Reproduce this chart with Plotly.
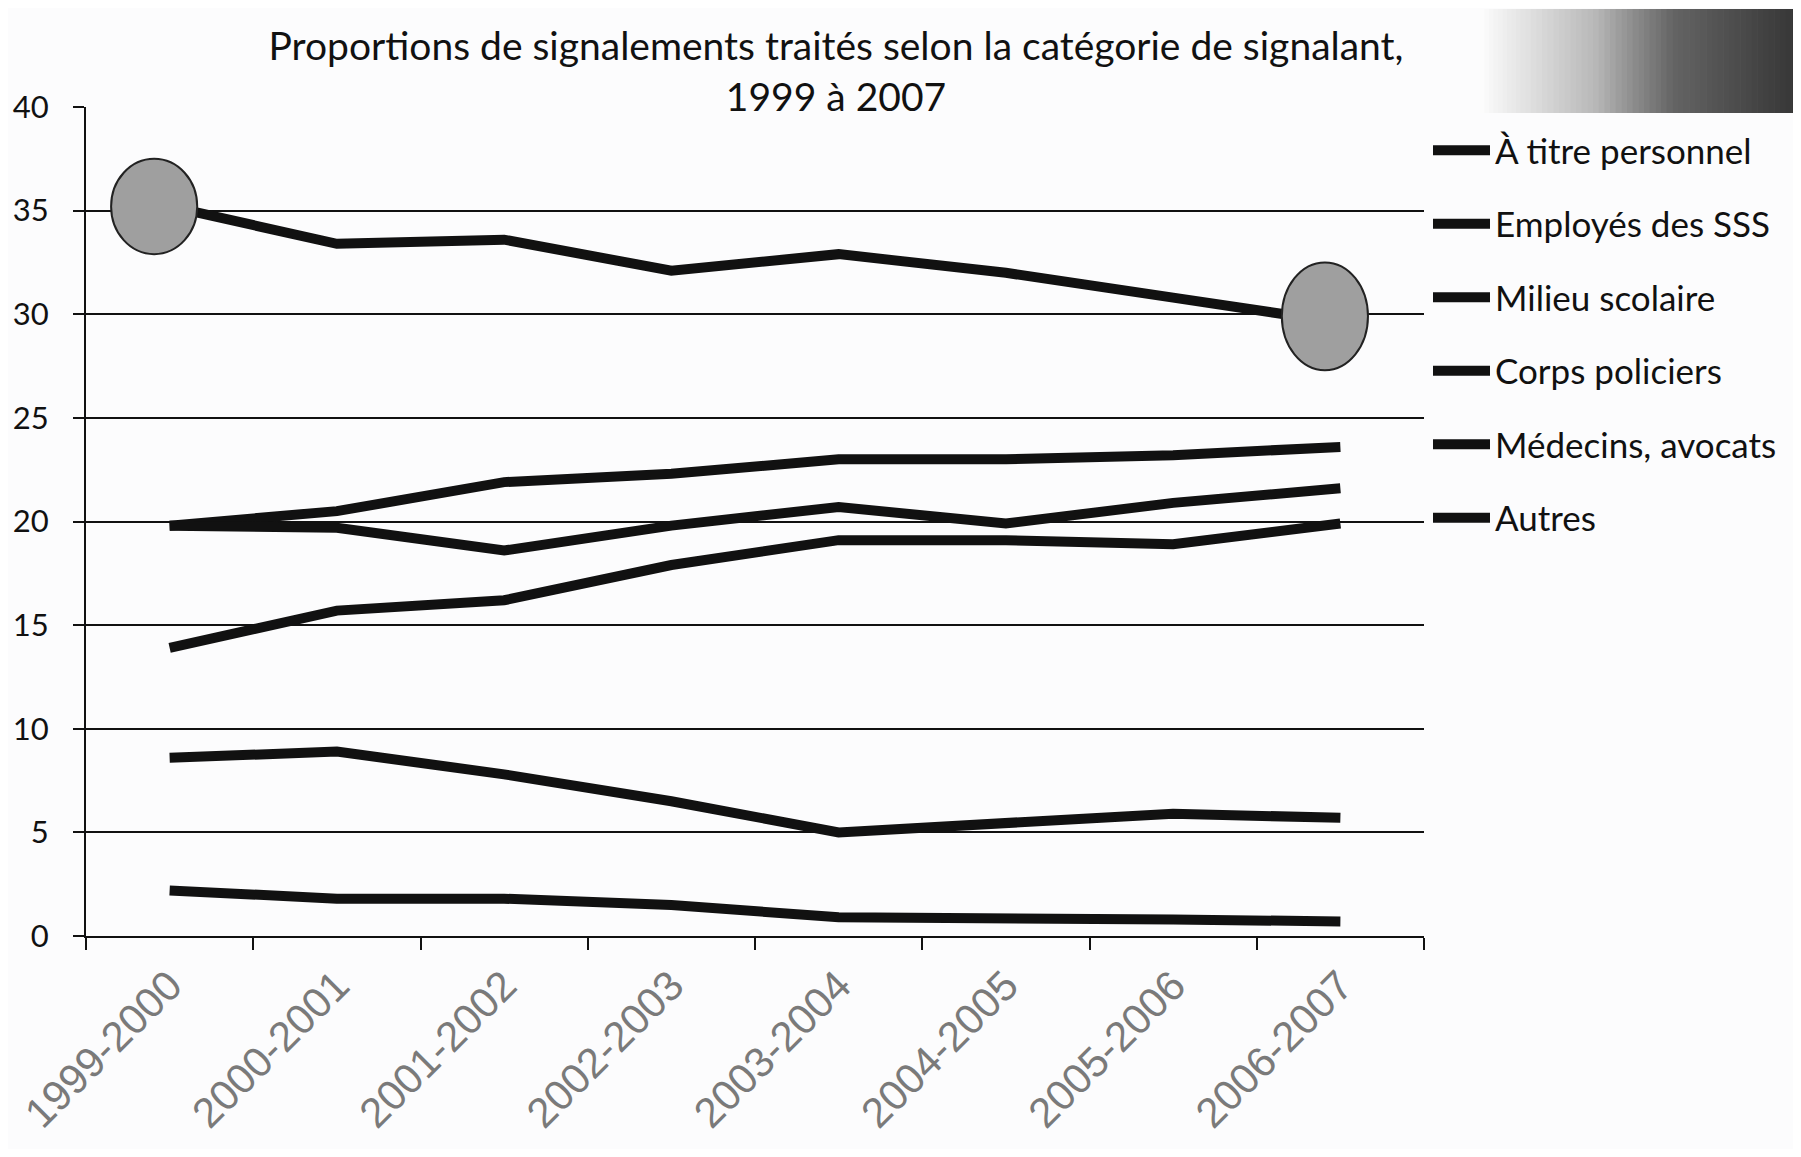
import plotly.graph_objects as go

# ---- data ----
periods = ["1999-2000", "2000-2001", "2001-2002", "2002-2003",
           "2003-2004", "2004-2005", "2005-2006", "2006-2007"]

series_names = ["À titre personnel", "Employés des SSS", "Milieu scolaire",
                "Corps policiers", "Médecins, avocats", "Autres"]

a_titre_personnel = [35.2, 33.4, 33.6, 32.1, 32.9, 32.0, 30.8, 29.6]
employes_sss      = [19.8, 20.5, 21.9, 22.3, 23.0, 23.0, 23.2, 23.6]
milieu_scolaire   = [19.8, 19.7, 18.6, 19.8, 20.7, 19.9, 20.9, 21.6]
corps_policiers   = [13.9, 15.7, 16.2, 17.9, 19.1, 19.1, 18.9, 19.9]
medecins_avocats  = [8.6, 8.9, 7.8, 6.5, 5.0, 5.4, 5.9, 5.7]
autres            = [2.2, 1.8, 1.8, 1.5, 0.9, 0.9, 0.8, 0.7]

all_series = [a_titre_personnel, employes_sss, milieu_scolaire,
              corps_policiers, medecins_avocats, autres]

y_ticks = [0, 5, 10, 15, 20, 25, 30, 35, 40]

FONT = "Lato"
OFF = 8                      # default page (body) margin
W, H = 1801 - 2 * OFF, 1157 - 2 * OFF
L = 86 - OFF
T = 107 - OFF
R = W - (1424 - OFF)
B = H - (936 - OFF)
PW, PH = W - L - R, H - T - B


def px_x(x):   # page pixel -> paper x
    return (x - OFF - L) / PW


def px_y(y):   # page pixel -> paper y
    return 1 - (y - OFF - T) / PH


fig = go.Figure()
for name, vals in zip(series_names, all_series):
    fig.add_trace(go.Scatter(
        x=periods, y=vals, name=name, mode="lines",
        line=dict(color="#111111", width=10),
        legendgroup=name,
    ))

# highlight ellipses at the first and last points of the top series
ellipse_style = {0: (0.0, 2.3), len(periods) - 1: (0.3, 2.6)}  # (centre shift, half height)
for idx, (shift, half) in ellipse_style.items():
    v = a_titre_personnel[idx] + shift
    fig.add_shape(type="circle", xref="x", yref="y",
                  x0=idx - 0.35, x1=idx + 0.165, y0=v - half, y1=v + half,
                  fillcolor="#9f9f9f", line=dict(color="#222222", width=2),
                  layer="above")

# grey gradient box top-right (decoration)
n = 48
x_start, x_end = 1525, 1797
stops = [(0.0, 225), (0.25, 185), (0.4, 140), (0.55, 100), (0.75, 80), (1.0, 55)]


def grey(t):
    for (t0, g0), (t1, g1) in zip(stops[:-1], stops[1:]):
        if t <= t1:
            return int(g0 + (g1 - g0) * (t - t0) / (t1 - t0))
    return stops[-1][1]


for i in range(n):
    xa = x_start + (x_end - x_start) * i / n
    xb = x_start + (x_end - x_start) * (i + 1) / n + 0.6
    g = grey(i / (n - 1))
    fig.add_shape(type="rect", xref="paper", yref="paper",
                  x0=px_x(xa), x1=px_x(xb), y0=px_y(113), y1=px_y(9),
                  fillcolor=f"rgb({g},{g},{g})", line=dict(width=0), layer="below")
# soft fade on the left side of the box
for i in range(10):
    xa = 1480 + 4.5 * i
    g = int(252 - 2.7 * i)
    fig.add_shape(type="rect", xref="paper", yref="paper",
                  x0=px_x(xa), x1=px_x(xa + 5.1), y0=px_y(113), y1=px_y(9),
                  fillcolor=f"rgb({g},{g},{g})", line=dict(width=0), layer="below")

fig.update_layout(
    width=W, height=H,
    margin=dict(l=L, r=R, t=T, b=B, autoexpand=False),
    paper_bgcolor="#fcfcfd", plot_bgcolor="#fcfcfd",
    font=dict(family=FONT, color="#111111"),
    title=dict(text="Proportions de signalements traités selon la catégorie de signalant,<br>1999 à 2007",
               x=(836 - OFF) / W, xanchor="center", y=1 - 52 / H, yanchor="top",
               font=dict(family=FONT, size=39, color="#111111")),
    showlegend=True,
    legend=dict(x=px_x(1428), xanchor="left", y=px_y(121), yanchor="top",
                font=dict(family=FONT, size=35, color="#111111"),
                bgcolor="rgba(0,0,0,0)", tracegroupgap=25, itemwidth=57,
                traceorder="grouped"),
    xaxis=dict(type="category", range=[-0.5, 7.5], tickson="boundaries",
               ticks="outside", ticklen=12, tickwidth=2, tickcolor="#111111",
               showline=True, linecolor="#111111", linewidth=2,
               showgrid=False, tickangle=-45,
               tickfont=dict(family="Liberation Sans", size=42, color="#7a7a7a"),
               ticklabelstandoff=6, zeroline=False),
    yaxis=dict(range=[0, 40], tickvals=y_ticks, ticks="outside", ticklen=11,
               tickwidth=2, tickcolor="#111111",
               showline=True, linecolor="#111111", linewidth=2,
               showgrid=True, gridcolor="#111111", gridwidth=2,
               tickfont=dict(family=FONT, size=31, color="#111111"),
               ticklabelstandoff=18, zeroline=False),
)

fig.write_html("out.html")
